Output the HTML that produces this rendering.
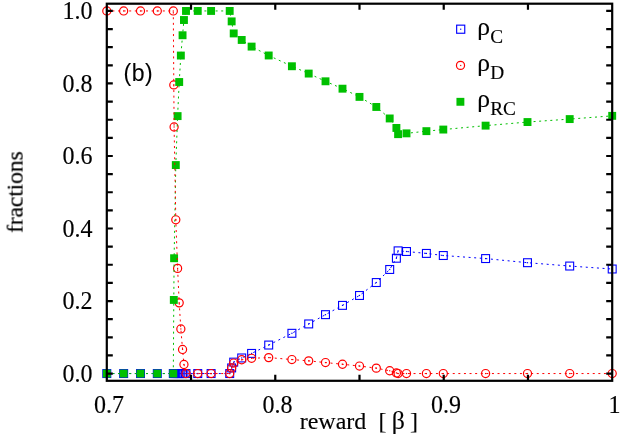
<!DOCTYPE html>
<html><head><meta charset="utf-8"><title>plot</title>
<style>
html,body{margin:0;padding:0;background:#fff;}
svg{display:block;}
text{font-family:"Liberation Serif",serif;font-size:24px;fill:#000;stroke:#000;stroke-width:0.15px;}
.sans{font-family:"Liberation Sans",sans-serif;}
</style></head>
<body>
<svg width="639" height="445" viewBox="0 0 639 445">
<rect x="0" y="0" width="639" height="445" fill="#fff"/>
<path d="M106.80,373.55 L123.65,373.55 L140.50,373.55 L157.30,373.55 L173.30,373.55 L173.80,373.55 L174.10,373.55 L175.80,373.55 L177.60,373.55 L179.20,373.55 L180.85,373.55 L182.55,373.55 L183.95,373.55 L186.00,373.55 L197.75,373.55 L211.10,373.55 L229.70,373.55 L231.65,367.93 L233.70,362.13 L241.70,357.96 L251.60,353.42 L268.70,345.05 L291.90,333.30 L308.70,323.94 L325.50,314.66 L342.50,305.38 L359.50,295.48 L376.30,282.54 L389.70,269.48 L396.40,258.24 L398.10,250.85 L406.50,251.50 L426.40,253.42 L443.30,255.52 L485.60,258.57 L527.50,262.70 L569.70,266.04 L612.20,269.01" fill="none" stroke="#0000ff" stroke-width="1" stroke-dasharray="2 3.6"/>
<rect x="102.85" y="369.60" width="7.9" height="7.9" fill="none" stroke="#0000ff" stroke-width="1.1"/><rect x="106.20" y="372.95" width="1.2" height="1.2" fill="#0000ff"/>
<rect x="119.70" y="369.60" width="7.9" height="7.9" fill="none" stroke="#0000ff" stroke-width="1.1"/><rect x="123.05" y="372.95" width="1.2" height="1.2" fill="#0000ff"/>
<rect x="136.55" y="369.60" width="7.9" height="7.9" fill="none" stroke="#0000ff" stroke-width="1.1"/><rect x="139.90" y="372.95" width="1.2" height="1.2" fill="#0000ff"/>
<rect x="153.35" y="369.60" width="7.9" height="7.9" fill="none" stroke="#0000ff" stroke-width="1.1"/><rect x="156.70" y="372.95" width="1.2" height="1.2" fill="#0000ff"/>
<rect x="169.35" y="369.60" width="7.9" height="7.9" fill="none" stroke="#0000ff" stroke-width="1.1"/><rect x="172.70" y="372.95" width="1.2" height="1.2" fill="#0000ff"/>
<rect x="169.85" y="369.60" width="7.9" height="7.9" fill="none" stroke="#0000ff" stroke-width="1.1"/><rect x="173.20" y="372.95" width="1.2" height="1.2" fill="#0000ff"/>
<rect x="170.15" y="369.60" width="7.9" height="7.9" fill="none" stroke="#0000ff" stroke-width="1.1"/><rect x="173.50" y="372.95" width="1.2" height="1.2" fill="#0000ff"/>
<rect x="171.85" y="369.60" width="7.9" height="7.9" fill="none" stroke="#0000ff" stroke-width="1.1"/><rect x="175.20" y="372.95" width="1.2" height="1.2" fill="#0000ff"/>
<rect x="173.65" y="369.60" width="7.9" height="7.9" fill="none" stroke="#0000ff" stroke-width="1.1"/><rect x="177.00" y="372.95" width="1.2" height="1.2" fill="#0000ff"/>
<rect x="175.25" y="369.60" width="7.9" height="7.9" fill="none" stroke="#0000ff" stroke-width="1.1"/><rect x="178.60" y="372.95" width="1.2" height="1.2" fill="#0000ff"/>
<rect x="176.90" y="369.60" width="7.9" height="7.9" fill="none" stroke="#0000ff" stroke-width="1.1"/><rect x="180.25" y="372.95" width="1.2" height="1.2" fill="#0000ff"/>
<rect x="178.60" y="369.60" width="7.9" height="7.9" fill="none" stroke="#0000ff" stroke-width="1.1"/><rect x="181.95" y="372.95" width="1.2" height="1.2" fill="#0000ff"/>
<rect x="180.00" y="369.60" width="7.9" height="7.9" fill="none" stroke="#0000ff" stroke-width="1.1"/><rect x="183.35" y="372.95" width="1.2" height="1.2" fill="#0000ff"/>
<rect x="182.05" y="369.60" width="7.9" height="7.9" fill="none" stroke="#0000ff" stroke-width="1.1"/><rect x="185.40" y="372.95" width="1.2" height="1.2" fill="#0000ff"/>
<rect x="193.80" y="369.60" width="7.9" height="7.9" fill="none" stroke="#0000ff" stroke-width="1.1"/><rect x="197.15" y="372.95" width="1.2" height="1.2" fill="#0000ff"/>
<rect x="207.15" y="369.60" width="7.9" height="7.9" fill="none" stroke="#0000ff" stroke-width="1.1"/><rect x="210.50" y="372.95" width="1.2" height="1.2" fill="#0000ff"/>
<rect x="225.75" y="369.60" width="7.9" height="7.9" fill="none" stroke="#0000ff" stroke-width="1.1"/><rect x="229.10" y="372.95" width="1.2" height="1.2" fill="#0000ff"/>
<rect x="227.70" y="363.98" width="7.9" height="7.9" fill="none" stroke="#0000ff" stroke-width="1.1"/><rect x="231.05" y="367.33" width="1.2" height="1.2" fill="#0000ff"/>
<rect x="229.75" y="358.18" width="7.9" height="7.9" fill="none" stroke="#0000ff" stroke-width="1.1"/><rect x="233.10" y="361.53" width="1.2" height="1.2" fill="#0000ff"/>
<rect x="237.75" y="354.01" width="7.9" height="7.9" fill="none" stroke="#0000ff" stroke-width="1.1"/><rect x="241.10" y="357.36" width="1.2" height="1.2" fill="#0000ff"/>
<rect x="247.65" y="349.47" width="7.9" height="7.9" fill="none" stroke="#0000ff" stroke-width="1.1"/><rect x="251.00" y="352.82" width="1.2" height="1.2" fill="#0000ff"/>
<rect x="264.75" y="341.10" width="7.9" height="7.9" fill="none" stroke="#0000ff" stroke-width="1.1"/><rect x="268.10" y="344.45" width="1.2" height="1.2" fill="#0000ff"/>
<rect x="287.95" y="329.35" width="7.9" height="7.9" fill="none" stroke="#0000ff" stroke-width="1.1"/><rect x="291.30" y="332.70" width="1.2" height="1.2" fill="#0000ff"/>
<rect x="304.75" y="319.99" width="7.9" height="7.9" fill="none" stroke="#0000ff" stroke-width="1.1"/><rect x="308.10" y="323.34" width="1.2" height="1.2" fill="#0000ff"/>
<rect x="321.55" y="310.71" width="7.9" height="7.9" fill="none" stroke="#0000ff" stroke-width="1.1"/><rect x="324.90" y="314.06" width="1.2" height="1.2" fill="#0000ff"/>
<rect x="338.55" y="301.43" width="7.9" height="7.9" fill="none" stroke="#0000ff" stroke-width="1.1"/><rect x="341.90" y="304.78" width="1.2" height="1.2" fill="#0000ff"/>
<rect x="355.55" y="291.53" width="7.9" height="7.9" fill="none" stroke="#0000ff" stroke-width="1.1"/><rect x="358.90" y="294.88" width="1.2" height="1.2" fill="#0000ff"/>
<rect x="372.35" y="278.59" width="7.9" height="7.9" fill="none" stroke="#0000ff" stroke-width="1.1"/><rect x="375.70" y="281.94" width="1.2" height="1.2" fill="#0000ff"/>
<rect x="385.75" y="265.53" width="7.9" height="7.9" fill="none" stroke="#0000ff" stroke-width="1.1"/><rect x="389.10" y="268.88" width="1.2" height="1.2" fill="#0000ff"/>
<rect x="392.45" y="254.29" width="7.9" height="7.9" fill="none" stroke="#0000ff" stroke-width="1.1"/><rect x="395.80" y="257.64" width="1.2" height="1.2" fill="#0000ff"/>
<rect x="394.15" y="246.90" width="7.9" height="7.9" fill="none" stroke="#0000ff" stroke-width="1.1"/><rect x="397.50" y="250.25" width="1.2" height="1.2" fill="#0000ff"/>
<rect x="402.55" y="247.55" width="7.9" height="7.9" fill="none" stroke="#0000ff" stroke-width="1.1"/><rect x="405.90" y="250.90" width="1.2" height="1.2" fill="#0000ff"/>
<rect x="422.45" y="249.47" width="7.9" height="7.9" fill="none" stroke="#0000ff" stroke-width="1.1"/><rect x="425.80" y="252.82" width="1.2" height="1.2" fill="#0000ff"/>
<rect x="439.35" y="251.57" width="7.9" height="7.9" fill="none" stroke="#0000ff" stroke-width="1.1"/><rect x="442.70" y="254.92" width="1.2" height="1.2" fill="#0000ff"/>
<rect x="481.65" y="254.62" width="7.9" height="7.9" fill="none" stroke="#0000ff" stroke-width="1.1"/><rect x="485.00" y="257.97" width="1.2" height="1.2" fill="#0000ff"/>
<rect x="523.55" y="258.75" width="7.9" height="7.9" fill="none" stroke="#0000ff" stroke-width="1.1"/><rect x="526.90" y="262.10" width="1.2" height="1.2" fill="#0000ff"/>
<rect x="565.75" y="262.09" width="7.9" height="7.9" fill="none" stroke="#0000ff" stroke-width="1.1"/><rect x="569.10" y="265.44" width="1.2" height="1.2" fill="#0000ff"/>
<rect x="608.25" y="265.06" width="7.9" height="7.9" fill="none" stroke="#0000ff" stroke-width="1.1"/><rect x="611.60" y="268.41" width="1.2" height="1.2" fill="#0000ff"/>
<circle cx="106.80" cy="10.95" r="4.05" fill="none" stroke="#ff0000" stroke-width="1.2"/><rect x="106.20" y="10.35" width="1.2" height="1.2" fill="#ff0000"/>
<circle cx="123.65" cy="10.95" r="4.05" fill="none" stroke="#ff0000" stroke-width="1.2"/><rect x="123.05" y="10.35" width="1.2" height="1.2" fill="#ff0000"/>
<circle cx="140.50" cy="10.95" r="4.05" fill="none" stroke="#ff0000" stroke-width="1.2"/><rect x="139.90" y="10.35" width="1.2" height="1.2" fill="#ff0000"/>
<circle cx="157.30" cy="10.95" r="4.05" fill="none" stroke="#ff0000" stroke-width="1.2"/><rect x="156.70" y="10.35" width="1.2" height="1.2" fill="#ff0000"/>
<circle cx="173.30" cy="10.95" r="4.05" fill="none" stroke="#ff0000" stroke-width="1.2"/><rect x="172.70" y="10.35" width="1.2" height="1.2" fill="#ff0000"/>
<circle cx="173.80" cy="84.92" r="4.05" fill="none" stroke="#ff0000" stroke-width="1.2"/><rect x="173.20" y="84.32" width="1.2" height="1.2" fill="#ff0000"/>
<circle cx="174.10" cy="126.98" r="4.05" fill="none" stroke="#ff0000" stroke-width="1.2"/><rect x="173.50" y="126.38" width="1.2" height="1.2" fill="#ff0000"/>
<circle cx="175.80" cy="219.81" r="4.05" fill="none" stroke="#ff0000" stroke-width="1.2"/><rect x="175.20" y="219.21" width="1.2" height="1.2" fill="#ff0000"/>
<circle cx="177.60" cy="268.40" r="4.05" fill="none" stroke="#ff0000" stroke-width="1.2"/><rect x="177.00" y="267.80" width="1.2" height="1.2" fill="#ff0000"/>
<circle cx="179.20" cy="302.84" r="4.05" fill="none" stroke="#ff0000" stroke-width="1.2"/><rect x="178.60" y="302.24" width="1.2" height="1.2" fill="#ff0000"/>
<circle cx="180.85" cy="328.95" r="4.05" fill="none" stroke="#ff0000" stroke-width="1.2"/><rect x="180.25" y="328.35" width="1.2" height="1.2" fill="#ff0000"/>
<circle cx="182.55" cy="349.44" r="4.05" fill="none" stroke="#ff0000" stroke-width="1.2"/><rect x="181.95" y="348.84" width="1.2" height="1.2" fill="#ff0000"/>
<circle cx="183.95" cy="364.48" r="4.05" fill="none" stroke="#ff0000" stroke-width="1.2"/><rect x="183.35" y="363.88" width="1.2" height="1.2" fill="#ff0000"/>
<circle cx="186.00" cy="373.55" r="4.05" fill="none" stroke="#ff0000" stroke-width="1.2"/><rect x="185.40" y="372.95" width="1.2" height="1.2" fill="#ff0000"/>
<circle cx="197.75" cy="373.55" r="4.05" fill="none" stroke="#ff0000" stroke-width="1.2"/><rect x="197.15" y="372.95" width="1.2" height="1.2" fill="#ff0000"/>
<circle cx="211.10" cy="373.55" r="4.05" fill="none" stroke="#ff0000" stroke-width="1.2"/><rect x="210.50" y="372.95" width="1.2" height="1.2" fill="#ff0000"/>
<circle cx="229.70" cy="373.55" r="4.05" fill="none" stroke="#ff0000" stroke-width="1.2"/><rect x="229.10" y="372.95" width="1.2" height="1.2" fill="#ff0000"/>
<circle cx="231.65" cy="367.93" r="4.05" fill="none" stroke="#ff0000" stroke-width="1.2"/><rect x="231.05" y="367.33" width="1.2" height="1.2" fill="#ff0000"/>
<circle cx="233.70" cy="363.03" r="4.05" fill="none" stroke="#ff0000" stroke-width="1.2"/><rect x="233.10" y="362.43" width="1.2" height="1.2" fill="#ff0000"/>
<circle cx="241.70" cy="359.77" r="4.05" fill="none" stroke="#ff0000" stroke-width="1.2"/><rect x="241.10" y="359.17" width="1.2" height="1.2" fill="#ff0000"/>
<circle cx="251.60" cy="358.32" r="4.05" fill="none" stroke="#ff0000" stroke-width="1.2"/><rect x="251.00" y="357.72" width="1.2" height="1.2" fill="#ff0000"/>
<circle cx="268.70" cy="357.59" r="4.05" fill="none" stroke="#ff0000" stroke-width="1.2"/><rect x="268.10" y="356.99" width="1.2" height="1.2" fill="#ff0000"/>
<circle cx="291.90" cy="359.55" r="4.05" fill="none" stroke="#ff0000" stroke-width="1.2"/><rect x="291.30" y="358.95" width="1.2" height="1.2" fill="#ff0000"/>
<circle cx="308.70" cy="360.86" r="4.05" fill="none" stroke="#ff0000" stroke-width="1.2"/><rect x="308.10" y="360.26" width="1.2" height="1.2" fill="#ff0000"/>
<circle cx="325.50" cy="362.56" r="4.05" fill="none" stroke="#ff0000" stroke-width="1.2"/><rect x="324.90" y="361.96" width="1.2" height="1.2" fill="#ff0000"/>
<circle cx="342.50" cy="364.27" r="4.05" fill="none" stroke="#ff0000" stroke-width="1.2"/><rect x="341.90" y="363.67" width="1.2" height="1.2" fill="#ff0000"/>
<circle cx="359.50" cy="366.04" r="4.05" fill="none" stroke="#ff0000" stroke-width="1.2"/><rect x="358.90" y="365.44" width="1.2" height="1.2" fill="#ff0000"/>
<circle cx="376.30" cy="368.15" r="4.05" fill="none" stroke="#ff0000" stroke-width="1.2"/><rect x="375.70" y="367.55" width="1.2" height="1.2" fill="#ff0000"/>
<circle cx="389.70" cy="370.76" r="4.05" fill="none" stroke="#ff0000" stroke-width="1.2"/><rect x="389.10" y="370.16" width="1.2" height="1.2" fill="#ff0000"/>
<circle cx="396.40" cy="372.93" r="4.05" fill="none" stroke="#ff0000" stroke-width="1.2"/><rect x="395.80" y="372.33" width="1.2" height="1.2" fill="#ff0000"/>
<circle cx="398.10" cy="373.55" r="4.05" fill="none" stroke="#ff0000" stroke-width="1.2"/><rect x="397.50" y="372.95" width="1.2" height="1.2" fill="#ff0000"/>
<circle cx="406.50" cy="373.55" r="4.05" fill="none" stroke="#ff0000" stroke-width="1.2"/><rect x="405.90" y="372.95" width="1.2" height="1.2" fill="#ff0000"/>
<circle cx="426.40" cy="373.55" r="4.05" fill="none" stroke="#ff0000" stroke-width="1.2"/><rect x="425.80" y="372.95" width="1.2" height="1.2" fill="#ff0000"/>
<circle cx="443.30" cy="373.55" r="4.05" fill="none" stroke="#ff0000" stroke-width="1.2"/><rect x="442.70" y="372.95" width="1.2" height="1.2" fill="#ff0000"/>
<circle cx="485.60" cy="373.55" r="4.05" fill="none" stroke="#ff0000" stroke-width="1.2"/><rect x="485.00" y="372.95" width="1.2" height="1.2" fill="#ff0000"/>
<circle cx="527.50" cy="373.55" r="4.05" fill="none" stroke="#ff0000" stroke-width="1.2"/><rect x="526.90" y="372.95" width="1.2" height="1.2" fill="#ff0000"/>
<circle cx="569.70" cy="373.55" r="4.05" fill="none" stroke="#ff0000" stroke-width="1.2"/><rect x="569.10" y="372.95" width="1.2" height="1.2" fill="#ff0000"/>
<circle cx="612.20" cy="373.55" r="4.05" fill="none" stroke="#ff0000" stroke-width="1.2"/><rect x="611.60" y="372.95" width="1.2" height="1.2" fill="#ff0000"/>
<path d="M106.80,373.55 L123.65,373.55 L140.50,373.55 L157.30,373.55 L173.30,373.55 L173.80,299.94 L174.10,258.24 L175.80,165.06 L177.60,116.10 L179.20,82.02 L180.85,55.55 L182.55,35.25 L183.95,20.02 L186.00,10.95 L197.75,10.95 L211.10,10.95 L229.70,10.95 L231.65,21.39 L233.70,33.43 L241.70,39.96 L251.60,46.60 L268.70,55.48 L291.90,66.25 L308.70,73.57 L325.50,81.30 L342.50,88.69 L359.50,96.89 L376.30,106.97 L389.70,118.46 L396.40,127.96 L398.10,134.16 L406.50,133.36 L426.40,131.15 L443.30,129.56 L485.60,125.64 L527.50,122.05 L569.70,119.08 L612.20,115.85" fill="none" stroke="#00c000" stroke-width="1" stroke-dasharray="2 3.6"/>
<rect x="102.85" y="369.60" width="7.9" height="7.9" fill="#00c000"/>
<rect x="119.70" y="369.60" width="7.9" height="7.9" fill="#00c000"/>
<rect x="136.55" y="369.60" width="7.9" height="7.9" fill="#00c000"/>
<rect x="153.35" y="369.60" width="7.9" height="7.9" fill="#00c000"/>
<rect x="169.35" y="369.60" width="7.9" height="7.9" fill="#00c000"/>
<rect x="169.85" y="295.99" width="7.9" height="7.9" fill="#00c000"/>
<rect x="170.15" y="254.29" width="7.9" height="7.9" fill="#00c000"/>
<rect x="171.85" y="161.11" width="7.9" height="7.9" fill="#00c000"/>
<rect x="173.65" y="112.15" width="7.9" height="7.9" fill="#00c000"/>
<rect x="175.25" y="78.07" width="7.9" height="7.9" fill="#00c000"/>
<rect x="176.90" y="51.60" width="7.9" height="7.9" fill="#00c000"/>
<rect x="178.60" y="31.30" width="7.9" height="7.9" fill="#00c000"/>
<rect x="180.00" y="16.07" width="7.9" height="7.9" fill="#00c000"/>
<rect x="182.05" y="7.00" width="7.9" height="7.9" fill="#00c000"/>
<rect x="193.80" y="7.00" width="7.9" height="7.9" fill="#00c000"/>
<rect x="207.15" y="7.00" width="7.9" height="7.9" fill="#00c000"/>
<rect x="225.75" y="7.00" width="7.9" height="7.9" fill="#00c000"/>
<rect x="227.70" y="17.44" width="7.9" height="7.9" fill="#00c000"/>
<rect x="229.75" y="29.48" width="7.9" height="7.9" fill="#00c000"/>
<rect x="237.75" y="36.01" width="7.9" height="7.9" fill="#00c000"/>
<rect x="247.65" y="42.65" width="7.9" height="7.9" fill="#00c000"/>
<rect x="264.75" y="51.53" width="7.9" height="7.9" fill="#00c000"/>
<rect x="287.95" y="62.30" width="7.9" height="7.9" fill="#00c000"/>
<rect x="304.75" y="69.62" width="7.9" height="7.9" fill="#00c000"/>
<rect x="321.55" y="77.35" width="7.9" height="7.9" fill="#00c000"/>
<rect x="338.55" y="84.74" width="7.9" height="7.9" fill="#00c000"/>
<rect x="355.55" y="92.94" width="7.9" height="7.9" fill="#00c000"/>
<rect x="372.35" y="103.02" width="7.9" height="7.9" fill="#00c000"/>
<rect x="385.75" y="114.51" width="7.9" height="7.9" fill="#00c000"/>
<rect x="392.45" y="124.01" width="7.9" height="7.9" fill="#00c000"/>
<rect x="394.15" y="130.21" width="7.9" height="7.9" fill="#00c000"/>
<rect x="402.55" y="129.41" width="7.9" height="7.9" fill="#00c000"/>
<rect x="422.45" y="127.20" width="7.9" height="7.9" fill="#00c000"/>
<rect x="439.35" y="125.61" width="7.9" height="7.9" fill="#00c000"/>
<rect x="481.65" y="121.69" width="7.9" height="7.9" fill="#00c000"/>
<rect x="523.55" y="118.10" width="7.9" height="7.9" fill="#00c000"/>
<rect x="565.75" y="115.13" width="7.9" height="7.9" fill="#00c000"/>
<rect x="608.25" y="111.90" width="7.9" height="7.9" fill="#00c000"/>
<path d="M106.80,10.95 L123.65,10.95 L140.50,10.95 L157.30,10.95 L173.30,10.95 L173.80,84.92 L174.10,126.98 L175.80,219.81 L177.60,268.40 L179.20,302.84 L180.85,328.95 L182.55,349.44 L183.95,364.48 L186.00,373.55 L197.75,373.55 L211.10,373.55 L229.70,373.55 L231.65,367.93 L233.70,363.03 L241.70,359.77 L251.60,358.32 L268.70,357.59 L291.90,359.55 L308.70,360.86 L325.50,362.56 L342.50,364.27 L359.50,366.04 L376.30,368.15 L389.70,370.76 L396.40,372.93 L398.10,373.55 L406.50,373.55 L426.40,373.55 L443.30,373.55 L485.60,373.55 L527.50,373.55 L569.70,373.55 L612.20,373.55" fill="none" stroke="#ff0000" stroke-width="1" stroke-dasharray="2 3.6"/>
<g stroke="#000" stroke-width="2.2" fill="none">
<path d="M106.8,373.55 h6.0 M612.2,373.55 h-6.0"/>
<path d="M106.8,355.42 h6.0 M612.2,355.42 h-6.0"/>
<path d="M106.8,337.29 h6.0 M612.2,337.29 h-6.0"/>
<path d="M106.8,319.16 h6.0 M612.2,319.16 h-6.0"/>
<path d="M106.8,301.03 h6.0 M612.2,301.03 h-6.0"/>
<path d="M106.8,282.90 h6.0 M612.2,282.90 h-6.0"/>
<path d="M106.8,264.77 h6.0 M612.2,264.77 h-6.0"/>
<path d="M106.8,246.64 h6.0 M612.2,246.64 h-6.0"/>
<path d="M106.8,228.51 h6.0 M612.2,228.51 h-6.0"/>
<path d="M106.8,210.38 h6.0 M612.2,210.38 h-6.0"/>
<path d="M106.8,192.25 h6.0 M612.2,192.25 h-6.0"/>
<path d="M106.8,174.12 h6.0 M612.2,174.12 h-6.0"/>
<path d="M106.8,155.99 h6.0 M612.2,155.99 h-6.0"/>
<path d="M106.8,137.86 h6.0 M612.2,137.86 h-6.0"/>
<path d="M106.8,119.73 h6.0 M612.2,119.73 h-6.0"/>
<path d="M106.8,101.60 h6.0 M612.2,101.60 h-6.0"/>
<path d="M106.8,83.47 h6.0 M612.2,83.47 h-6.0"/>
<path d="M106.8,65.34 h6.0 M612.2,65.34 h-6.0"/>
<path d="M106.8,47.21 h6.0 M612.2,47.21 h-6.0"/>
<path d="M106.8,29.08 h6.0 M612.2,29.08 h-6.0"/>
<path d="M106.8,10.95 h6.0 M612.2,10.95 h-6.0"/>
<path d="M191.03,380.8 v-6.0 M191.03,3.7 v6.0"/>
<path d="M275.27,380.8 v-6.0 M275.27,3.7 v6.0"/>
<path d="M359.50,380.8 v-6.0 M359.50,3.7 v6.0"/>
<path d="M443.73,380.8 v-6.0 M443.73,3.7 v6.0"/>
<path d="M527.97,380.8 v-6.0 M527.97,3.7 v6.0"/>
<rect x="106.8" y="3.7" width="505.40000000000003" height="377.1"/>
</g>
<g opacity="0.999">
<text transform="translate(92.5,381.60) scale(1,1.04)" text-anchor="end">0.0</text>
<text transform="translate(92.5,309.08) scale(1,1.04)" text-anchor="end">0.2</text>
<text transform="translate(92.5,236.56) scale(1,1.04)" text-anchor="end">0.4</text>
<text transform="translate(92.5,164.04) scale(1,1.04)" text-anchor="end">0.6</text>
<text transform="translate(92.5,91.52) scale(1,1.04)" text-anchor="end">0.8</text>
<text transform="translate(92.5,19.00) scale(1,1.04)" text-anchor="end">1.0</text>
<text transform="translate(109.10,413.05) scale(1,1.04)" text-anchor="middle">0.7</text>
<text transform="translate(277.57,413.05) scale(1,1.04)" text-anchor="middle">0.8</text>
<text transform="translate(446.03,413.05) scale(1,1.04)" text-anchor="middle">0.9</text>
<text transform="translate(614.50,413.05) scale(1,1.04)" text-anchor="middle">1</text>
<text class="sans" x="123.5" y="80.5" style="font-size:23px;stroke-width:0.1px;letter-spacing:0.5px">(b)</text>
<text transform="translate(22.6,192.3) rotate(-90)" text-anchor="middle" style="letter-spacing:-0.27px">fractions</text>
<text x="299.7" y="428.5">reward</text>
<text x="378.5" y="428.9">[</text>
<text x="391.8" y="428.9" style="font-size:25.8px">β</text>
<text x="410.0" y="428.9">]</text>

<rect x="456.65" y="25.15" width="8.1" height="8.1" fill="none" stroke="#0000ff" stroke-width="1.15"/>
<rect x="460.09999999999997" y="28.599999999999998" width="1.2" height="1.2" fill="#0000ff"/>
<circle cx="460.5" cy="65.4" r="4.05" fill="none" stroke="#ff0000" stroke-width="1.2"/>
<rect x="460.09999999999997" y="64.9" width="1.2" height="1.2" fill="#ff0000"/>
<rect x="456.45" y="97.85" width="7.9" height="7.9" fill="#00c000"/>
<text x="477.2" y="34.7" style="font-size:25.6px">ρ<tspan font-size="19.3" dy="7.9" dx="0.2">C</tspan></text>
<text x="477.2" y="70.9" style="font-size:25.6px">ρ<tspan font-size="19.3" dy="7.9" dx="0.2">D</tspan></text>
<text x="477.2" y="107.1" style="font-size:25.6px">ρ<tspan font-size="19.3" dy="7.9" dx="0.2">RC</tspan></text>

</g>
</svg>
</body></html>
